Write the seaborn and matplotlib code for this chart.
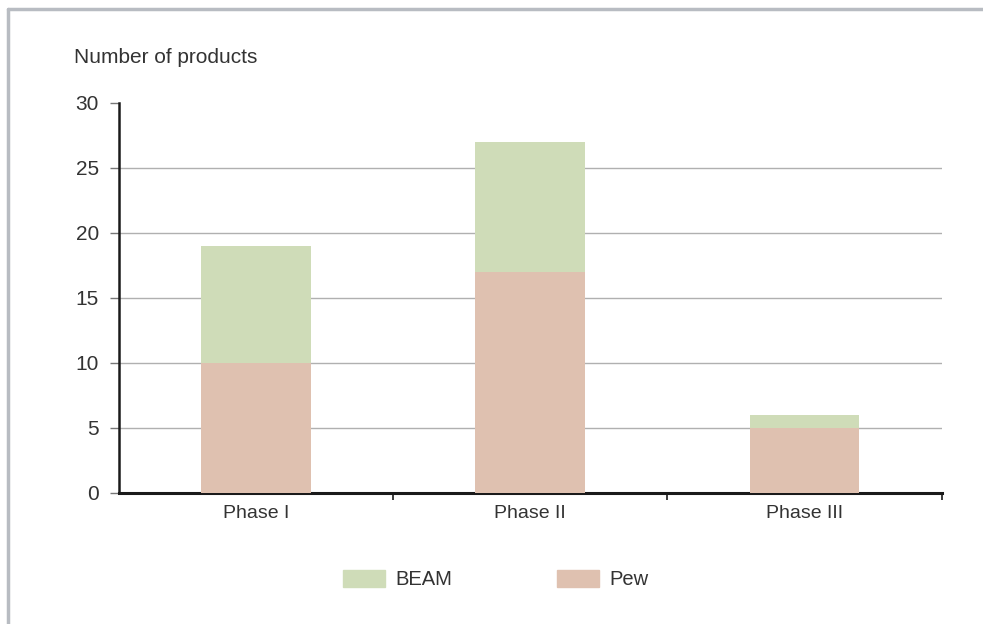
import matplotlib
matplotlib.use("Agg")
import matplotlib.pyplot as plt
import matplotlib.patches as mpatches
from matplotlib.lines import Line2D
import pandas as pd
import seaborn as sns

phases = ["Phase I", "Phase II", "Phase III"]
pew = [10, 17, 5]
beam = [9, 10, 1]
totals = [p + b for p, b in zip(pew, beam)]

beam_color = "#cfdcb8"
pew_color = "#dfc1b0"
text_color = "#333333"

sns.set_theme(style="white")
plt.rcParams["font.family"] = ["Liberation Sans", "DejaVu Sans"]

df = pd.DataFrame({"phase": phases, "pew": pew, "total": totals})

fig = plt.figure(figsize=(9.83, 6.24), dpi=100)
ax = fig.add_axes([0.121, 0.21, 0.837, 0.625])

# stacked bars: total (BEAM on top) first, then Pew over it
sns.barplot(data=df, x="phase", y="total", color=beam_color, width=0.4,
            saturation=1, linewidth=0, ax=ax, zorder=3)
sns.barplot(data=df, x="phase", y="pew", color=pew_color, width=0.4,
            saturation=1, linewidth=0, ax=ax, zorder=3)

ax.set_xlim(-0.5, 2.5)
ax.set_ylim(0, 30)
ax.set_yticks(range(0, 31, 5))
ax.set_xlabel("")
ax.set_ylabel("")

for v in range(5, 30, 5):
    ax.axhline(v, color="#b0b0b0", lw=1, zorder=1)

for s in ["top", "right"]:
    ax.spines[s].set_visible(False)
ax.spines["left"].set_color("#1a1a1a")
ax.spines["left"].set_linewidth(1.8)
ax.spines["bottom"].set_color("#1a1a1a")
ax.spines["bottom"].set_linewidth(2.2)

ax.tick_params(axis="y", left=True, length=6.5, width=1, color="#777777",
               labelsize=15, labelcolor=text_color, pad=8)
ax.tick_params(axis="x", bottom=False, labelsize=14, labelcolor=text_color, pad=3)
# category boundary ticks
ax.set_xticks([0.5, 1.5, 2.5], minor=True)
ax.tick_params(axis="x", which="minor", bottom=True, direction="out", length=5,
               width=1.2, color="#1a1a1a")

fig.text(0.075, 0.908, "Number of products", fontsize=15, color=text_color,
         va="center", ha="left")

handles = [mpatches.Patch(color=beam_color, label="BEAM"),
           mpatches.Patch(color=pew_color, label="Pew")]
fig.legend(handles=handles, loc="center", bbox_to_anchor=(0.504, 0.071), ncol=2,
           frameon=False, fontsize=14.5, handlelength=2.1, handleheight=0.9,
           columnspacing=5.2, handletextpad=0.5, labelcolor=text_color)

# outer frame (top and left edges visible)
fig.add_artist(Line2D([0.0085, 1.0], [0.985, 0.985], color="#b8bcc2", lw=2.5,
                      transform=fig.transFigure))
fig.add_artist(Line2D([0.0085, 0.0085], [0.0, 0.985], color="#b8bcc2", lw=2.5,
                      transform=fig.transFigure))

fig.savefig("out.png", dpi=100)
